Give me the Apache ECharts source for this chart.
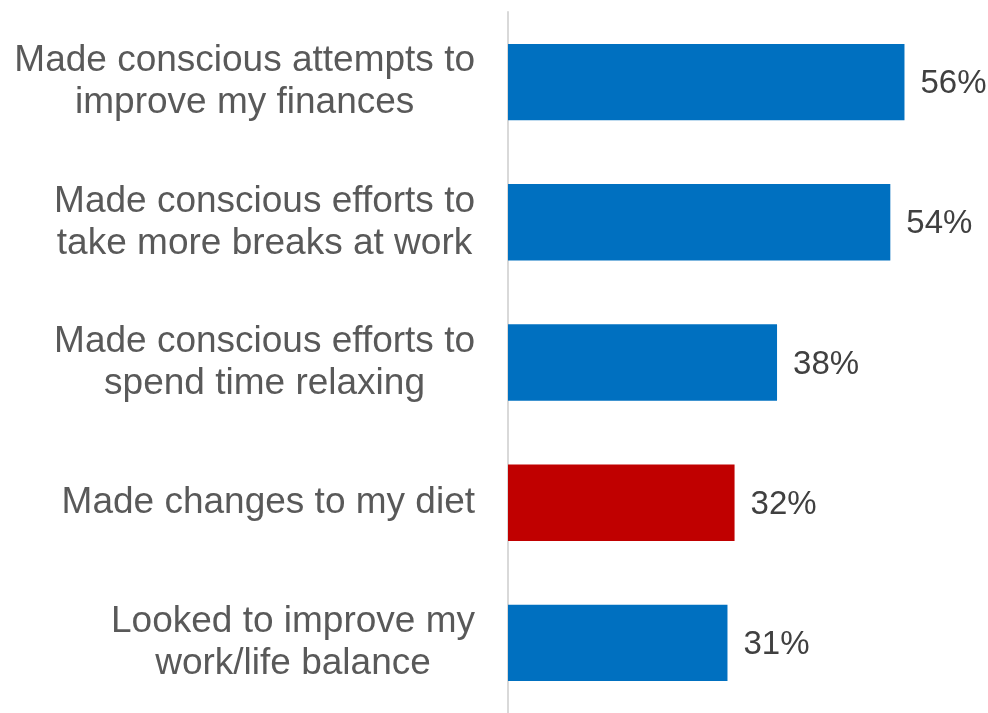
<!DOCTYPE html>
<html>
<head>
<meta charset="utf-8">
<script src="https://cdn.jsdelivr.net/npm/echarts@6/dist/echarts.min.js"></script>
<style>html,body{margin:0;padding:0;background:#fff}#c{width:988px;height:713px}</style>
</head>
<body>
<div id="c"></div>
<script>
const categories = [
  "Made conscious attempts to\nimprove my finances",
  "Made conscious efforts to\ntake more breaks at work",
  "Made conscious efforts to\nspend time relaxing",
  "Made changes to my diet",
  "Looked to improve my\nwork/life balance"
];
const values = [56, 54, 38, 32, 31];
const barColors = ["#0070C0", "#0070C0", "#0070C0", "#C00000", "#0070C0"];

const FONT_FAMILY = 'Liberation Sans, Arial, sans-serif';
const LABEL_SIZE = 37;
const ctx = document.createElement('canvas').getContext('2d');
ctx.font = LABEL_SIZE + 'px ' + FONT_FAMILY;
const catData = categories.map(c => {
  const w = Math.max(...c.split('\n').map(l => ctx.measureText(l).width));
  return {value: c, textStyle: {align: 'center', padding: [4, w, 0, 0]}};
});

const chart = echarts.init(document.getElementById('c'), null, {renderer: 'canvas'});
chart.setOption({
  animation: false,
  grid: {left: 508, top: 12, width: 424.8, height: 706},
  xAxis: {type: 'value', min: 0, max: 60, show: false},
  yAxis: {
    type: 'category', inverse: true, data: catData,
    axisLine: {show: true, lineStyle: {color: '#d9d9d9', width: 2}},
    axisTick: {show: false},
    axisLabel: {
      color: '#595959', fontSize: LABEL_SIZE, fontFamily: FONT_FAMILY,
      lineHeight: 42, align: 'center', margin: 33
    }
  },
  series: [{
    type: 'bar', barWidth: '54.5%',
    data: values.map((v, i) => ({value: v, itemStyle: {color: barColors[i]}})),
    label: {
      show: true, position: 'right', distance: 16, offset: [0, 2], formatter: '{c}%',
      color: '#404040', fontSize: 33, fontFamily: FONT_FAMILY
    }
  }]
});
</script>
</body>
</html>
